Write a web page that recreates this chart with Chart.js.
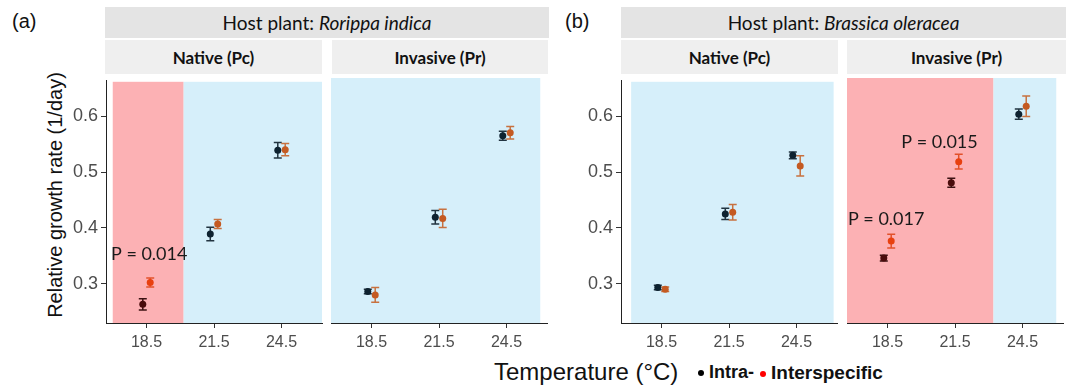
<!DOCTYPE html>
<html>
<head>
<meta charset="utf-8">
<script src="https://cdn.jsdelivr.net/npm/chart.js@4.4.0/dist/chart.umd.min.js"></script>
<style>
  body { margin: 0; width: 1066px; height: 385px; background: #fff; position: relative; overflow: hidden; font-family: Arial, "Liberation Sans", sans-serif; }
  canvas, .strip, .lbl { position: absolute; }
  .strip { display: flex; align-items: center; justify-content: center; font-family: Lato, "Open Sans", sans-serif; font-size: 17px; color: #111; white-space: nowrap; }
  .host { background: #e4e4e4; top: 7px; height: 31px; font-size: 19px; }
  .sub { background: #efefef; top: 40px; height: 34px; font-weight: bold; }
  .tag { font-size: 20px; color: #111; top: 10px; }
  .ytitle { width: 300px; height: 24px; line-height: 24px; text-align: center; font-size: 20px; color: #111; transform: rotate(-90deg); }
  .narrow { font-family: "Liberation Sans Narrow", "Arial Narrow", Arial, sans-serif; }
  .dot { display: inline-block; width: 6px; height: 6px; border-radius: 50%; vertical-align: middle; margin-right: 5px; }
</style>
</head>
<body>
<div class="lbl tag" style="left:12px;">(a)</div>
<div class="lbl tag" style="left:565px;">(b)</div>

<div class="strip host" style="left:105px; width:444px;">Host plant:&nbsp;<i>Rorippa indica</i></div>
<div class="strip sub" style="left:105px; width:217px;">Native (Pc)</div>
<div class="strip sub" style="left:332px; width:216px;">Invasive (Pr)</div>
<div class="strip host" style="left:621px; width:445px;">Host plant:&nbsp;<i>Brassica oleracea</i></div>
<div class="strip sub" style="left:621px; width:217px;">Native (Pc)</div>
<div class="strip sub" style="left:847px; width:219px;">Invasive (Pr)</div>

<div class="lbl ytitle" style="left:-95px; top:183px;">Relative growth rate (1/day)</div>
<div class="lbl narrow" style="left:494px; top:358px; font-size:24px; color:#111;">Temperature (°C)</div>
<div class="lbl narrow" style="left:698px; top:362px; font-size:18px; font-weight:bold; color:#111;"><span class="dot" style="background:#000;"></span>Intra-</div>
<div class="lbl narrow" style="left:760px; top:362px; font-size:19px; font-weight:bold; color:#111;"><span class="dot" style="background:#ff0000;"></span>Interspecific</div>

<canvas id="p1" width="280" height="288" style="left:46px; top:67px;"></canvas>
<canvas id="p2" width="224" height="288" style="left:327px; top:67px;"></canvas>
<canvas id="p3" width="280" height="288" style="left:561px; top:67px;"></canvas>
<canvas id="p4" width="224" height="288" style="left:843px; top:67px;"></canvas>

<script>
const temps = ['18.5', '21.5', '24.5'];
const yTicks = [0.3, 0.4, 0.5, 0.6];

// Host plant: Rorippa indica
const riNativeIntra = [0.263, 0.389, 0.539];
const riNativeIntraSE = [0.010, 0.012, 0.014];
const riNativeInter = [0.302, 0.407, 0.540];
const riNativeInterSE = [0.008, 0.008, 0.011];
const riNativeSig = [true, false, false];

const riInvasiveIntra = [0.285, 0.416, 0.560];
const riInvasiveIntraSE = [0.004, 0.012, 0.008];
const riInvasiveInter = [0.279, 0.414, 0.565];
const riInvasiveInterSE = [0.013, 0.016, 0.011];
const riInvasiveSig = [false, false, false];

// Host plant: Brassica oleracea
const boNativeIntra = [0.293, 0.425, 0.530];
const boNativeIntraSE = [0.004, 0.010, 0.006];
const boNativeInter = [0.290, 0.428, 0.511];
const boNativeInterSE = [0.004, 0.014, 0.018];
const boNativeSig = [false, false, false];

const boInvasiveIntra = [0.344, 0.477, 0.598];
const boInvasiveIntraSE = [0.005, 0.008, 0.009];
const boInvasiveInter = [0.374, 0.514, 0.612];
const boInvasiveInterSE = [0.012, 0.013, 0.018];
const boInvasiveSig = [true, true, false];

const PINK = '#fcb1b4';
const BLUE = '#d6effa';
const COLORS = {
  intra: { sig: '#4a0c0c', ns: '#0e2230' },
  inter: { sig: '#e8400f', ns: '#c45a22' },
  intraBar: { sig: '#3b1212', ns: '#223440' },
  interBar: { sig: '#e2512a', ns: '#c8713f' }
};

const shadePlugin = {
  id: 'shade',
  beforeDraw(chart, args, opts) {
    const { ctx, chartArea: a, scales: { x } } = chart;
    ctx.save();
    opts.rects.forEach(r => {
      const x0 = x.getPixelForValue(r[0]);
      const x1 = x.getPixelForValue(r[1]);
      ctx.fillStyle = r[2];
      ctx.fillRect(x0, a.top + 1, x1 - x0, a.bottom - a.top - 1);
    });
    ctx.restore();
  }
};

const errorBarPlugin = {
  id: 'errbars',
  beforeDatasetsDraw(chart) {
    const { ctx, scales: { x, y } } = chart;
    ctx.save();
    ctx.lineWidth = 1.5;
    chart.data.datasets.forEach(ds => {
      ds.data.forEach((p, j) => {
        const px = x.getPixelForValue(p.x);
        const top = y.getPixelForValue(p.y + ds.se[j]);
        const bot = y.getPixelForValue(p.y - ds.se[j]);
        ctx.strokeStyle = ds.barColors[j];
        ctx.beginPath();
        ctx.moveTo(px, top); ctx.lineTo(px, bot);
        ctx.moveTo(px - 4, top); ctx.lineTo(px + 4, top);
        ctx.moveTo(px - 4, bot); ctx.lineTo(px + 4, bot);
        ctx.stroke();
      });
    });
    ctx.restore();
  }
};

const pLabelPlugin = {
  id: 'plabels',
  afterDatasetsDraw(chart, args, opts) {
    const { ctx, scales: { x, y } } = chart;
    ctx.save();
    ctx.font = '18px Lato, "Open Sans", sans-serif';
    ctx.fillStyle = '#1a1a1a';
    ctx.textAlign = 'center';
    ctx.textBaseline = 'middle';
    opts.labels.forEach(l => {
      ctx.fillText(l.text, x.getPixelForValue(l.x), y.getPixelForValue(l.y));
    });
    ctx.restore();
  }
};

function makePanel(id, intra, intraSE, inter, interSE, sig, rects, labels, showY) {
  const key = s => (s ? 'sig' : 'ns');
  return new Chart(document.getElementById(id), {
    type: 'scatter',
    plugins: [shadePlugin, errorBarPlugin, pLabelPlugin],
    data: {
      datasets: [
        {
          label: 'Intra-',
          data: intra.map((v, i) => ({ x: i + 1 - 0.055, y: v })),
          se: intraSE,
          barColors: sig.map(s => COLORS.intraBar[key(s)]),
          pointBackgroundColor: sig.map(s => COLORS.intra[key(s)]),
          pointBorderWidth: 0,
          pointRadius: 3.5
        },
        {
          label: 'Interspecific',
          data: inter.map((v, i) => ({ x: i + 1 + 0.055, y: v })),
          se: interSE,
          barColors: sig.map(s => COLORS.interBar[key(s)]),
          pointBackgroundColor: sig.map(s => COLORS.inter[key(s)]),
          pointBorderWidth: 0,
          pointRadius: 3.5
        }
      ]
    },
    options: {
      responsive: false,
      animation: false,
      devicePixelRatio: 1,
      layout: { padding: { top: 10, left: showY ? 0 : 4, right: 4, bottom: 0 } },
      plugins: {
        legend: { display: false },
        tooltip: { enabled: false },
        shade: { rects: rects },
        plabels: { labels: labels }
      },
      scales: {
        x: {
          type: 'linear',
          min: 0.4,
          max: 3.6,
          afterBuildTicks: s => { s.ticks = [1, 2, 3].map(v => ({ value: v })); },
          afterFit: s => { s.height = 32; },
          ticks: {
            callback: v => temps[Math.round(v) - 1],
            font: { family: '"Liberation Sans Narrow", "Arial Narrow", Arial', size: 16 },
            color: '#4d4d4d',
            padding: 5,
            maxRotation: 0
          },
          grid: { drawOnChartArea: false, tickLength: 5, color: '#333', tickColor: '#333' },
          border: { display: true, color: '#222', width: 1 }
        },
        y: {
          display: showY,
          min: 0.2295,
          max: 0.6635,
          afterBuildTicks: s => { s.ticks = yTicks.map(v => ({ value: v })); },
          afterFit: s => { s.width = showY ? 60 : 0; },
          ticks: {
            callback: v => v.toFixed(1),
            font: { family: '"Liberation Sans Narrow", "Arial Narrow", Arial', size: 18 },
            color: '#4d4d4d',
            padding: 3
          },
          grid: { drawOnChartArea: false, tickLength: 5, color: '#333', tickColor: '#333' },
          border: { display: true, color: '#222', width: 1 }
        }
      }
    }
  });
}

makePanel('p1', riNativeIntra, riNativeIntraSE, riNativeInter, riNativeInterSE, riNativeSig,
  [[0.5, 1.55, PINK], [1.55, 3.6, BLUE]],
  [{ text: 'P = 0.014', x: 1.04, y: 0.353 }], true);
makePanel('p2', riInvasiveIntra, riInvasiveIntraSE, riInvasiveInter, riInvasiveInterSE, riInvasiveSig,
  [[0.4, 3.5, BLUE]], [], false);
makePanel('p3', boNativeIntra, boNativeIntraSE, boNativeInter, boNativeInterSE, boNativeSig,
  [[0.55, 3.55, BLUE]], [], true);
makePanel('p4', boInvasiveIntra, boInvasiveIntraSE, boInvasiveInter, boInvasiveInterSE, boInvasiveSig,
  [[0.4, 2.57, PINK], [2.57, 3.5, BLUE]],
  [{ text: 'P = 0.017', x: 0.98, y: 0.413 }, { text: 'P = 0.015', x: 1.77, y: 0.549 }], false);
</script>
</body>
</html>
